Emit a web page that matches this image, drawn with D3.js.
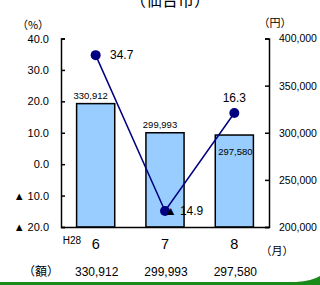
<!DOCTYPE html>
<html>
<head>
<meta charset="utf-8">
<script src="https://cdn.jsdelivr.net/npm/d3@7"></script>
<style>
  body { margin: 0; background: #fff; }
  svg { display: block; font-family: Arial, "Liberation Sans", "Noto Sans CJK JP", sans-serif; }
  .jp { font-family: "Noto Sans CJK JP", sans-serif; }
</style>
</head>
<body>
<div class="chart"></div>
<script>
const months = ['6', '7', '8'];
const amounts = [330912, 299993, 297580];
const rates = [34.7, -14.9, 16.3];
const leftTicks = [40, 30, 20, 10, 0, -10, -20];
const rightTicks = [400000, 350000, 300000, 250000, 200000];

const width = 320, height = 285;
const plotLeft = 61, plotRight = 269, plotTop = 38.5, plotBottom = 227;

const svg = d3.select('.chart')
    .append('svg')
        .attr('width', width)
        .attr('height', height);

const x = d3.scaleBand()
    .domain(months)
    .range([plotLeft, plotRight])
    .paddingInner(0.45)
    .paddingOuter(0.225);

const yRate = d3.scaleLinear().domain([-20, 40]).range([plotBottom, plotTop]);
const yAmt = d3.scaleLinear().domain([200000, 400000]).range([plotBottom, plotTop]);

const fmtRate = d => d < 0 ? '▲ ' + d3.format('.1f')(-d) : d3.format('.1f')(d);
const fmtAmt = d3.format(',');
const cx = i => x(months[i]) + x.bandwidth() / 2;

// title (cut off at the top)
svg.append('text')
    .attr('class', 'jp')
    .attr('x', 170)
    .attr('y', 6)
    .attr('text-anchor', 'middle')
    .style('font-size', '16px')
    .text('（仙台市）');

// bars
svg.selectAll('rect.bar')
    .data(amounts)
    .enter()
    .append('rect')
        .attr('class', 'bar')
        .attr('x', (d, i) => x(months[i]))
        .attr('width', x.bandwidth())
        .attr('y', d => yAmt(d))
        .attr('height', d => yAmt(200000) - yAmt(d))
        .style('fill', '#99ccff')
        .style('stroke', '#000')
        .style('stroke-width', 1.5);

// bar value labels
svg.selectAll('text.barval')
    .data(amounts)
    .enter()
    .append('text')
        .attr('class', 'barval')
        .attr('x', (d, i) => cx(i) + (i === 2 ? 1 : -5))
        .attr('y', (d, i) => i === 2 ? yAmt(d) + 20 : yAmt(d) - 5)
        .attr('text-anchor', 'middle')
        .style('font-size', '9.5px')
        .text(d => fmtAmt(d));

// axes
const axisL = svg.append('g')
    .attr('transform', `translate(${plotLeft},0)`)
    .call(d3.axisLeft(yRate).tickValues(leftTicks).tickSizeInner(-4).tickSizeOuter(-4)
        .tickPadding(12).tickFormat(fmtRate));

const axisR = svg.append('g')
    .attr('transform', `translate(${plotRight},0)`)
    .call(d3.axisRight(yAmt).tickValues(rightTicks).tickSizeInner(-4).tickSizeOuter(-4)
        .tickPadding(10).tickFormat(fmtAmt));

const axisB = svg.append('g')
    .attr('transform', `translate(0,${plotBottom})`)
    .call(d3.axisBottom(x).tickSize(0).tickPadding(12));

[axisL, axisR, axisB].forEach(g => {
    g.selectAll('path, line').style('stroke', '#000').style('stroke-width', 1.5);
    g.selectAll('text').style('fill', '#000').style('font-family', 'Arial, "Liberation Sans", sans-serif');
});
axisL.selectAll('text').style('font-size', '11px');
axisR.selectAll('text').style('font-size', '10.5px');
axisB.selectAll('text').style('font-size', '14.5px');

// unit labels
svg.append('text').attr('class', 'jp').attr('x', 33).attr('y', 29)
    .attr('text-anchor', 'middle').style('font-size', '11px').text('（%）');
svg.append('text').attr('class', 'jp').attr('x', 275).attr('y', 27)
    .attr('text-anchor', 'middle').style('font-size', '11px').text('（円）');
svg.append('text').attr('class', 'jp').attr('x', 277).attr('y', 255)
    .attr('text-anchor', 'middle').style('font-size', '11px').text('（月）');
svg.append('text').attr('x', 72).attr('y', 244)
    .attr('text-anchor', 'middle').style('font-size', '10px').text('H28');

// line
const line = d3.line()
    .x((d, i) => cx(i))
    .y(d => yRate(d));

svg.append('path')
    .datum(rates)
    .attr('d', line)
    .style('fill', 'none')
    .style('stroke', '#000080')
    .style('stroke-width', 1.5);

svg.selectAll('circle.pt')
    .data(rates)
    .enter()
    .append('circle')
        .attr('class', 'pt')
        .attr('cx', (d, i) => cx(i))
        .attr('cy', d => yRate(d))
        .attr('r', 5)
        .style('fill', '#000080');

// line value labels
const rateOffsets = [[26, 4], [19, 4], [0, -11]];
svg.selectAll('text.rateval')
    .data(rates)
    .enter()
    .append('text')
        .attr('class', 'rateval')
        .attr('x', (d, i) => cx(i) + rateOffsets[i][0])
        .attr('y', (d, i) => yRate(d) + rateOffsets[i][1])
        .attr('text-anchor', 'middle')
        .style('font-size', '12px')
        .text(d => fmtRate(d));

// amount row
svg.append('text').attr('class', 'jp').attr('x', 41).attr('y', 276)
    .attr('text-anchor', 'middle').style('font-size', '12px').text('（額）');
svg.selectAll('text.amt')
    .data(amounts)
    .enter()
    .append('text')
        .attr('class', 'amt')
        .attr('x', (d, i) => cx(i) + 1)
        .attr('y', 276)
        .attr('text-anchor', 'middle')
        .style('font-size', '12px')
        .text(d => fmtAmt(d));

// green bottom rule
svg.append('path')
    .attr('d', 'M0,282 L296,282 Q312,281 320,276 L320,285 L0,285 Z')
    .style('fill', '#1a8a1a');
</script>
</body>
</html>
